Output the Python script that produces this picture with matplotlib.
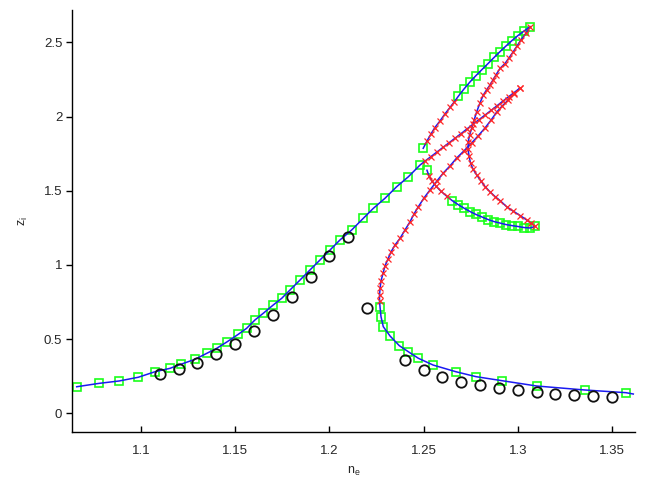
import matplotlib
matplotlib.use('Agg')
import matplotlib.pyplot as plt

plt.rcParams['font.family'] = ['Liberation Sans', 'DejaVu Sans']

# ---------------- data ----------------
# branch A: lower stable branch rising to the fold at n_e ~ 1.301
A_x = [1.0659, 1.0779, 1.0885, 1.0986, 1.1074, 1.1154, 1.1211, 1.1287, 1.1349, 1.1402,
       1.1455, 1.1516, 1.1561, 1.1605, 1.1649, 1.1702, 1.1747, 1.1791, 1.1844, 1.1897,
       1.1950, 1.2003, 1.2056, 1.2118, 1.2180, 1.2233, 1.2295, 1.2357, 1.2419, 1.2481,
       1.2507, 1.2539, 1.2571, 1.2603, 1.2635, 1.2667, 1.2699, 1.2730, 1.2762, 1.2794,
       1.2826, 1.2858, 1.2890, 1.2921, 1.2953, 1.2980, 1.3012]
A_y = [0.179, 0.202, 0.218, 0.243, 0.280, 0.303, 0.330, 0.364, 0.404, 0.438,
       0.480, 0.532, 0.573, 0.629, 0.674, 0.730, 0.775, 0.831, 0.898, 0.966,
       1.033, 1.100, 1.168, 1.235, 1.314, 1.381, 1.449, 1.527, 1.594, 1.673,
       1.699, 1.730, 1.761, 1.792, 1.823, 1.854, 1.885, 1.916, 1.948, 1.979,
       2.010, 2.041, 2.073, 2.104, 2.135, 2.161, 2.192]
A_m = 's' * 30 + 'x' * 17

# branch E: from the fold back down, then lower right stable branch
E_x = [1.3012, 1.2980, 1.2949, 1.2917, 1.2888, 1.2858, 1.2826, 1.2789, 1.2755, 1.2714,
       1.2676, 1.2640, 1.2605, 1.2571, 1.2534, 1.2502, 1.2472, 1.2449, 1.2428, 1.2401,
       1.2375, 1.2348, 1.2327, 1.2311, 1.2295, 1.2285, 1.2274, 1.2269, 1.2266, 1.2266,
       1.2269, 1.2274, 1.2286, 1.2322, 1.2371, 1.2419, 1.2472, 1.2551, 1.2672, 1.2778,
       1.2915, 1.3100, 1.3357, 1.3574, 1.3613]
E_y = [2.192, 2.152, 2.111, 2.071, 2.030, 1.976, 1.923, 1.869, 1.822, 1.768,
       1.721, 1.667, 1.620, 1.566, 1.505, 1.451, 1.392, 1.343, 1.291, 1.235,
       1.179, 1.134, 1.087, 1.040, 0.993, 0.945, 0.892, 0.844, 0.797, 0.757,
       0.714, 0.651, 0.584, 0.521, 0.456, 0.415, 0.371, 0.325, 0.280, 0.247,
       0.220, 0.184, 0.157, 0.139, 0.130]
E_m = 'x' * 30 + 's' * 14 + '-'

# branch B: upper arm ending at the top fold
B_x = [1.2498, 1.2518, 1.2539, 1.2560, 1.2587, 1.2613, 1.2640, 1.2664, 1.2685, 1.2714,
       1.2746, 1.2778, 1.2810, 1.2842, 1.2874, 1.2906, 1.2937, 1.2969, 1.3001, 1.3033,
       1.3065]
B_y = [1.786, 1.835, 1.882, 1.926, 1.970, 2.017, 2.061, 2.101, 2.138, 2.185,
       2.233, 2.276, 2.317, 2.357, 2.398, 2.438, 2.475, 2.512, 2.546, 2.576,
       2.606]
B_m = 's' + 'x' * 7 + 's' * 13

# branch C: unstable C-shaped branch between the two folds at n_e ~ 1.31
C_x = [1.3065, 1.3044, 1.3017, 1.2996, 1.2975, 1.2953, 1.2932, 1.2906, 1.2884, 1.2868,
       1.2852, 1.2834, 1.2817, 1.2799, 1.2782, 1.2768, 1.2755, 1.2744, 1.2737, 1.2736,
       1.2741, 1.2749, 1.2762, 1.2782, 1.2805, 1.2826, 1.2852, 1.2879, 1.2908, 1.2941,
       1.2975, 1.3012, 1.3047, 1.3070, 1.3091]
C_y = [2.603, 2.563, 2.516, 2.476, 2.435, 2.395, 2.357, 2.325, 2.280, 2.246,
       2.212, 2.179, 2.145, 2.091, 2.032, 1.976, 1.920, 1.875, 1.830, 1.781,
       1.734, 1.687, 1.646, 1.606, 1.565, 1.528, 1.493, 1.461, 1.431, 1.392,
       1.363, 1.333, 1.303, 1.283, 1.259]
C_m = 'x' * 35

# branch D: lower arm ending at the bottom fold
D_x = [1.2518, 1.2529, 1.2545, 1.2566, 1.2592, 1.2622, 1.2651, 1.2683, 1.2714, 1.2746,
       1.2778, 1.2810, 1.2842, 1.2874, 1.2906, 1.2937, 1.2969, 1.3001, 1.3033, 1.3065,
       1.3091]
D_y = [1.638, 1.598, 1.564, 1.531, 1.497, 1.464, 1.434, 1.407, 1.383, 1.360,
       1.340, 1.323, 1.306, 1.292, 1.282, 1.272, 1.265, 1.259, 1.252, 1.249,
       1.259]
D_m = 's' + 'x' * 5 + 's' * 15

# simulation points (black circles)
circ_x = [1.11, 1.12, 1.13, 1.14, 1.15, 1.16, 1.17, 1.18, 1.19, 1.20, 1.21, 1.22,
          1.24, 1.25, 1.26, 1.27, 1.28, 1.29, 1.30, 1.31, 1.32, 1.33, 1.34, 1.35]
circ_y = [0.262, 0.296, 0.340, 0.397, 0.468, 0.553, 0.660, 0.782, 0.916, 1.057, 1.187, 0.710,
          0.356, 0.291, 0.246, 0.213, 0.188, 0.172, 0.155, 0.143, 0.132, 0.123, 0.116, 0.110]

x_ticks = [1.1, 1.15, 1.2, 1.25, 1.3, 1.35]
x_tick_labels = ['1.1', '1.15', '1.2', '1.25', '1.3', '1.35']
y_ticks = [0, 0.5, 1, 1.5, 2, 2.5]
y_tick_labels = ['0', '0.5', '1', '1.5', '2', '2.5']

# ---------------- plot ----------------
fig = plt.figure(figsize=(6.46, 4.94), dpi=100)
ax = fig.add_axes([72 / 646, 62 / 494, (635 - 72) / 646, (484 - 62) / 494])

branches = [(A_x, A_y, A_m), (E_x, E_y, E_m), (B_x, B_y, B_m),
            (C_x, C_y, C_m), (D_x, D_y, D_m)]

for bx, by, bm in branches:
    sx = [x for x, m in zip(bx, bm) if m == 's']
    sy = [y for y, m in zip(by, bm) if m == 's']
    ux = [x for x, m in zip(bx, bm) if m == 'x']
    uy = [y for y, m in zip(by, bm) if m == 'x']
    ax.plot(sx, sy, ls='none', marker='s', ms=5.8, mfc='none',
            mec=(0.1, 1.0, 0.1), mew=1.2, zorder=2)
    ax.plot(bx, by, color=(0.1, 0.1, 0.95), lw=1.1, zorder=3)
    ax.plot(ux, uy, ls='none', marker='x', ms=4.0, mec=(1.0, 0.15, 0.15),
            mew=0.9, zorder=4)

ax.plot(circ_x, circ_y, ls='none', marker='o', ms=7.5, mfc='none',
        mec='#111111', mew=1.3, zorder=5)

ax.set_xlim(1.0634, 1.3622)
ax.set_ylim(-0.126, 2.718)
ax.set_xticks(x_ticks)
ax.set_xticklabels(x_tick_labels)
ax.set_yticks(y_ticks)
ax.set_yticklabels(y_tick_labels)

for s in ['top', 'right']:
    ax.spines[s].set_visible(False)
for s in ['left', 'bottom']:
    ax.spines[s].set_linewidth(1.0)
    ax.spines[s].set_color('black')

ax.tick_params(axis='x', direction='in', length=4, width=1.0,
               labelsize=9.5, labelcolor='#262626', pad=9)
ax.tick_params(axis='y', direction='out', length=4, width=1.0,
               labelsize=9.5, labelcolor='#262626', pad=3)

ax.set_xlabel(r'n$_\mathregular{e}$', fontsize=9, color='#262626', labelpad=6)
ax.set_ylabel(r'z$_\mathregular{i}$', fontsize=9, color='#262626', labelpad=10)

fig.savefig('out.png', dpi=100)
